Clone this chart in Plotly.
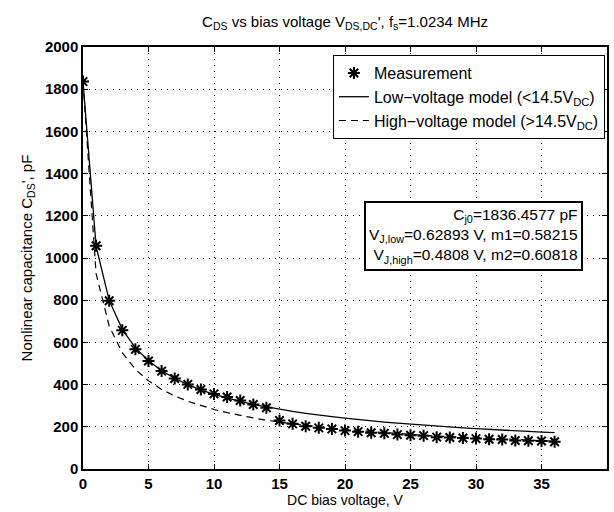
import plotly.graph_objects as go

# Measurement (DC bias voltage, V) and capacitance (pF)
v_meas = list(range(0, 37))
c_meas = [1836, 1058, 797, 657, 567, 512, 464, 429, 401, 377, 356, 341, 325, 306, 290,
          230, 214, 203, 195, 190, 182, 177, 172, 169, 163, 160, 158, 151, 149, 147,
          144, 141, 140, 135, 134, 133, 129]

# Low-voltage model curve
v_low = list(range(0, 37))
c_low = [1836, 1055, 799, 662, 574, 513, 466, 430, 400, 375, 354, 336, 320, 306, 294,
         283, 273, 264, 255, 248, 241, 234, 228, 222, 217, 212, 207, 203, 199, 195,
         191, 187, 184, 181, 178, 175, 172]

# High-voltage model curve
v_high = list(range(0, 37))
c_high = [1836, 926, 677, 551, 472, 418, 377, 346, 321, 300, 282, 267, 253, 242, 231,
          222, 214, 206, 200, 193, 187, 182, 177, 172, 168, 164, 160, 156, 153, 150,
          147, 144, 142, 139, 137, 134, 132]

x_ticks = [0, 5, 10, 15, 20, 25, 30, 35, 40]
y_ticks = [0, 200, 400, 600, 800, 1000, 1200, 1400, 1600, 1800, 2000]

FONT = "Liberation Sans, Arial, Helvetica, sans-serif"

fig = go.Figure()
fig.add_trace(go.Scatter(
    x=v_meas, y=c_meas, mode="markers", name="Measurement",
    marker=dict(symbol="asterisk-open", size=10, color="black",
                line=dict(color="black", width=2)),
))
fig.add_trace(go.Scatter(
    x=v_low, y=c_low, mode="lines", name="Low−voltage model (&lt;14.5V<sub>DC</sub>)",
    line=dict(color="black", width=1.3),
))
fig.add_trace(go.Scatter(
    x=v_high, y=c_high, mode="lines", name="High−voltage model (&gt;14.5V<sub>DC</sub>)",
    line=dict(color="black", width=1.2, dash="7px,5px"),
))

axis_common = dict(
    showline=True, linecolor="black", linewidth=1.5, mirror="ticks",
    ticks="inside", ticklen=5, tickcolor="black", tickwidth=1,
    showgrid=True, gridcolor="black", gridwidth=1, griddash="1px,5px",
    zeroline=False,
    tickfont=dict(family=FONT, size=15, color="black", weight="bold"),
)

fig.update_xaxes(range=[0, 40], tickvals=x_ticks, ticktext=[str(t) for t in x_ticks],
                 title=dict(text="DC bias voltage, V", standoff=4,
                            font=dict(family=FONT, size=14, color="black")),
                 **axis_common)
fig.update_yaxes(range=[0, 2000], tickvals=y_ticks, ticktext=[str(t) for t in y_ticks],
                 title=dict(text="Nonlinear capacitance C<sub>DS</sub>', pF", standoff=9,
                            font=dict(family=FONT, size=15, color="black")),
                 **axis_common)

fig.add_annotation(
    x=38.2, y=1102, xref="x", yref="y", xanchor="right", yanchor="middle",
    text=("C<sub>j0</sub>=1836.4577 pF<br>"
          "V<sub>J,low</sub>=0.62893 V, m1=0.58215<br>"
          "V<sub>J,high</sub>=0.4808 V, m2=0.60818"),
    showarrow=False, align="right",
    font=dict(family=FONT, size=15.5, color="black"),
    bgcolor="white", bordercolor="black", borderwidth=2, borderpad=3,
)

fig.update_layout(
    width=614, height=512,
    margin=dict(l=83, r=7, t=47, b=43, autoexpand=False),
    paper_bgcolor="white", plot_bgcolor="white",
    title=dict(text="C<sub>DS</sub> vs bias voltage V<sub>DS,DC</sub>', f<sub>s</sub>=1.0234 MHz",
               x=0.5, xref="paper", xanchor="center",
               y=1 - 22 / 512, yref="container", yanchor="middle",
               font=dict(family=FONT, size=15, color="black")),
    legend=dict(x=0.996, y=0.981, xanchor="right", yanchor="top",
                bgcolor="white", bordercolor="black", borderwidth=1,
                font=dict(family=FONT, size=16, color="black"),
                tracegroupgap=0, itemwidth=30),
    showlegend=True,
)

fig.write_html("out.html")
